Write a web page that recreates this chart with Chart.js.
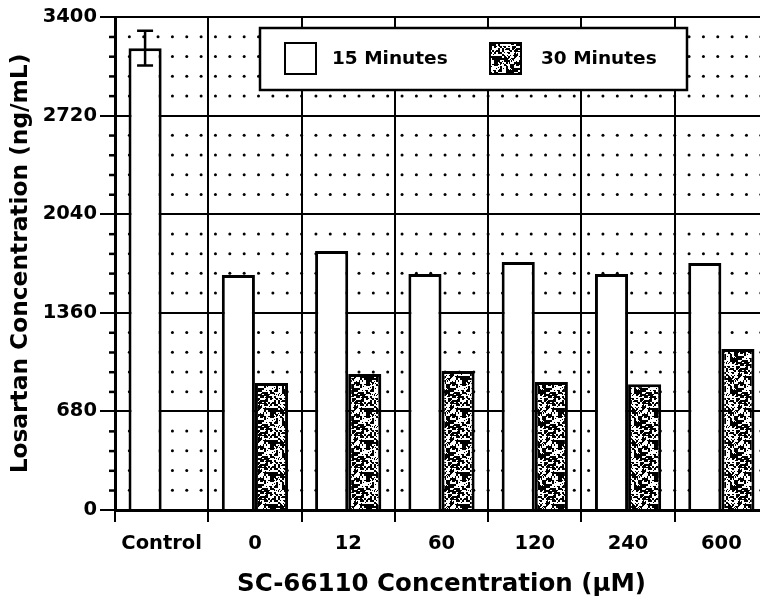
<!DOCTYPE html>
<html>
<head>
<meta charset="utf-8">
<script src="https://cdn.jsdelivr.net/npm/chart.js@4.4.0/dist/chart.umd.min.js"></script>
<style>
  html, body { margin: 0; padding: 0; background: #fff; overflow: hidden; }
  #wrap { width: 780px; height: 602px; }
</style>
</head>
<body>
<div id="wrap"><canvas id="losartan" width="780" height="602"></canvas></div>
<script>
const categories = ["Control", "0", "12", "60", "120", "240", "600"];
const min15 = [3185, 1620, 1786, 1628, 1710, 1628, 1703];
const min30 = [null, 876, 938, 959, 882, 868, 1110];
const min15Err = [120, 0, 0, 0, 0, 0, 0];
const yTicks = [0, 680, 1360, 2040, 2720, 3400];
const minorStep = 136;

const FONT = "'DejaVu Sans', 'Liberation Sans', sans-serif";
const canvas = document.getElementById("losartan");
const ctx = canvas.getContext("2d");

// speckled fill for the 30 minute bars
function stipple(target) {
  const c = document.createElement("canvas");
  c.width = 32; c.height = 32;
  const g = c.getContext("2d");
  g.fillStyle = "#fff";
  g.fillRect(0, 0, 32, 32);
  g.fillStyle = "#000";
  const h = (x, y) => {
    const s = Math.sin(x * 12.9898 + y * 78.233) * 43758.5453;
    return s - Math.floor(s);
  };
  for (let y = 0; y < 32; y++) {
    for (let x = 0; x < 32; x++) {
      if (h(x >> 1, y >> 1) < 0.45 || h(x + 7, y + 3) < 0.14) g.fillRect(x, y, 1, 1);
    }
  }
  return target.createPattern(c, "repeat");
}

// dotted minor grid plus short minor ticks on the y axis
const dotGrid = {
  id: "dotGrid",
  beforeDatasetsDraw(chart) {
    const { ctx, chartArea: a, scales: { x, y } } = chart;
    const step = (x.getPixelForTick(1) - x.getPixelForTick(0)) / 6.5;
    const major = yTicks[1];
    ctx.save();
    ctx.fillStyle = "#000";
    for (let v = minorStep; v < y.max; v += minorStep) {
      if (v % major === 0) continue;
      const py = y.getPixelForValue(v);
      for (let px = a.left + step; px < a.right - 2; px += step) {
        ctx.beginPath();
        ctx.arc(px, py, 1.5, 0, Math.PI * 2);
        ctx.fill();
      }
      ctx.fillRect(a.left - 6, py - 1, 6, 2.5);
    }
    ctx.restore();
  }
};

const errorBars = {
  id: "errorBars",
  afterDatasetsDraw(chart) {
    const { ctx, scales: { y } } = chart;
    const meta = chart.getDatasetMeta(0);
    ctx.save();
    ctx.strokeStyle = "#000";
    ctx.lineWidth = 2.5;
    min15Err.forEach((e, i) => {
      if (!e) return;
      const bx = meta.data[i].x;
      const hi = y.getPixelForValue(min15[i] + e);
      const lo = y.getPixelForValue(min15[i] - e);
      ctx.beginPath();
      ctx.moveTo(bx, hi); ctx.lineTo(bx, lo);
      ctx.moveTo(bx - 8, hi); ctx.lineTo(bx + 8, hi);
      ctx.moveTo(bx - 8, lo); ctx.lineTo(bx + 8, lo);
      ctx.stroke();
    });
    ctx.restore();
  }
};

// framed legend sitting inside the plot
const boxLegend = {
  id: "boxLegend",
  afterDraw(chart) {
    const { ctx, chartArea: a } = chart;
    const left = a.left + 145, top = a.top + 11, w = 427, h = 62;
    const offsets = [25, 230];
    ctx.save();
    ctx.fillStyle = "#fff";
    ctx.fillRect(left, top, w, h);
    ctx.lineWidth = 2.5;
    ctx.strokeStyle = "#000";
    ctx.strokeRect(left, top, w, h);
    chart.data.datasets.forEach((ds, i) => {
      const sx = left + offsets[i], sy = top + 15;
      ctx.fillStyle = ds.backgroundColor;
      ctx.fillRect(sx, sy, 31, 31);
      ctx.lineWidth = 2;
      ctx.strokeRect(sx, sy, 31, 31);
      ctx.fillStyle = "#000";
      ctx.font = "bold 18.5px " + FONT;
      ctx.textBaseline = "middle";
      ctx.fillText(ds.label, sx + 47 + i * 4, sy + 16);
    });
    ctx.restore();
  }
};

const tickFont = { family: FONT, weight: "bold", size: 19.5 };

new Chart(ctx, {
  type: "bar",
  data: {
    labels: categories,
    datasets: [
      {
        label: "15 Minutes",
        data: min15,
        backgroundColor: "#fff",
        borderColor: "#000",
        borderWidth: 3,
        categoryPercentage: 0.71,
        barPercentage: 1
      },
      {
        label: "30 Minutes",
        data: min30,
        backgroundColor: stipple(ctx),
        borderColor: "#000",
        borderWidth: 3,
        categoryPercentage: 0.71,
        barPercentage: 1
      }
    ]
  },
  options: {
    responsive: false,
    animation: false,
    devicePixelRatio: 1,
    layout: { padding: { top: 17, right: 12, left: 0, bottom: 0 } },
    plugins: { legend: { display: false }, tooltip: { enabled: false } },
    scales: {
      x: {
        grid: { color: "#000", lineWidth: 2, tickLength: 12, offset: true },
        border: { color: "#000", width: 3 },
        ticks: { color: "#000", font: tickFont, padding: 10, maxRotation: 0, autoSkip: false },
        title: {
          display: true,
          text: "SC-66110 Concentration (µM)",
          color: "#000",
          font: { family: FONT, weight: "bold", size: 24.5 },
          padding: { top: 0, bottom: 3 }
        },
        afterFit(s) { s.height = 92; }
      },
      y: {
        min: 0,
        max: 3400,
        afterBuildTicks(s) { s.ticks = yTicks.map(v => ({ value: v })); },
        grid: { color: "#000", lineWidth: 2, tickLength: 15 },
        border: { color: "#000", width: 3 },
        ticks: { color: "#000", font: tickFont, padding: 3, callback: v => String(v) },
        title: {
          display: true,
          text: "Losartan Concentration (ng/mL)",
          color: "#000",
          font: { family: FONT, weight: "bold", size: 23.3 },
          padding: { top: 7, bottom: 0 }
        },
        afterFit(s) { s.width = 115; }
      }
    }
  },
  plugins: [dotGrid, errorBars, boxLegend]
});
</script>
</body>
</html>
